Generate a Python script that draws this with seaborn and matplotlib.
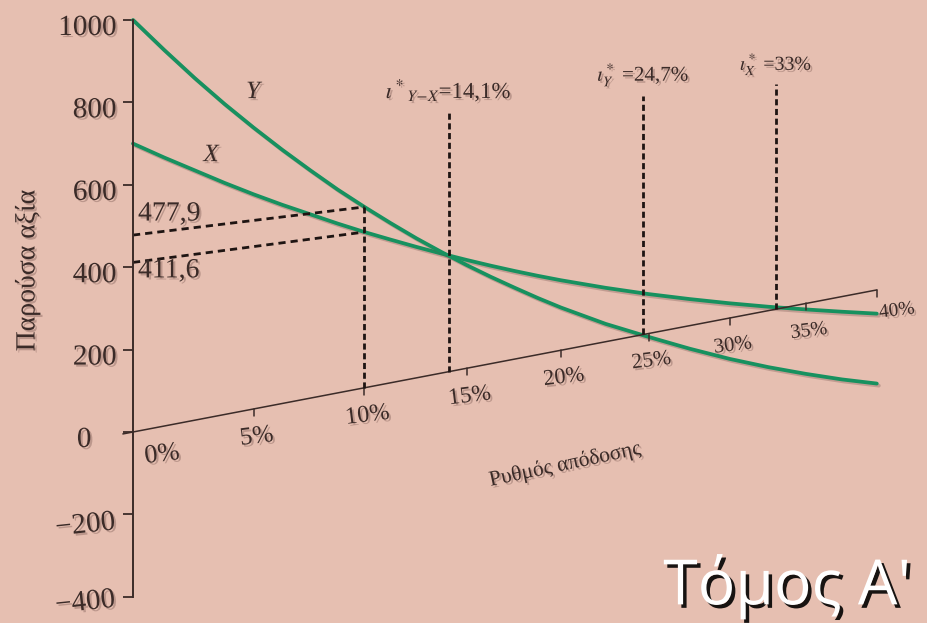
import numpy as np
import pandas as pd
import matplotlib
matplotlib.use('Agg')
import matplotlib.pyplot as plt
import matplotlib.patheffects as pe
from matplotlib import transforms
import seaborn as sns

# present value of the two projects against the rate of return
rates = [0, 1.25, 2.5, 3.75, 5, 6.25, 7.5, 8.75, 10, 11.25, 12.5, 13.75, 15, 16.25, 17.5, 18.75,
         20, 22.5, 25, 27.5, 30, 32.5, 35, 37.5, 40]
npv_x = [700, 659, 620, 581, 544, 509, 476, 443, 411.6, 382, 353, 325, 298, 272, 247, 223,
         200, 157, 117, 80, 45, 12, -19, -49, -78]
npv_y = [1000, 923, 849, 779, 713, 650, 590, 532, 477.9, 426, 376, 329, 284, 241, 200, 160,
         122, 52, -10, -70, -126, -177, -224, -268, -308]

rate_ticks = [0, 5, 10, 15, 20, 25, 30, 35, 40]
pv_ticks = [1000, 800, 600, 400, 200, 0, -200, -400]
pv_labels = ['1000', '800', '600', '400', '200', '0', '\u2212200', '\u2212400']

marked_rate = 10
marked_y = 477.9
marked_x = 411.6
irr_rates = [14.1, 24.7, 33]
irr_labels = [r'$\iota^*{}_{Y\!-\!X}$=14,1%', r'$\iota^*_Y$ =24,7%', r'$\iota^*_X$ =33%']

BG = '#e6bfb1'
GREEN = '#17915f'
INK = '#3b2b28'
DASH = '#1e1412'

# the rate axis is drawn in perspective, receding to the right
DEPTH = 0.00888
PX_PER_PCT = 25.2
RISE = 0.191 / 0.412


def project(r, v):
    r = np.asarray(r, dtype=float)
    v = np.asarray(v, dtype=float)
    s = 1.0 / (1.0 + DEPTH * r)
    u = PX_PER_PCT * r * s
    return u, RISE * u + v * s


def scale(r):
    return 1.0 / (1.0 + DEPTH * r)


sns.set_theme(style='white')
plt.rcParams['font.family'] = ['Liberation Serif', 'DejaVu Serif']
plt.rcParams['mathtext.fontset'] = 'stix'

shadow = [pe.withSimplePatchShadow(offset=(1.5, -1.5), shadow_rgbFace='#6e4d47', alpha=0.35)]

fig = plt.figure(figsize=(9.28, 6.23), dpi=100, facecolor=BG)
ax = fig.add_axes([0, 0, 1, 1], facecolor=BG)
ax.set_xlim(-133, 795)
ax.set_ylim(-463.6, 1048.5)

for side in ['top', 'right', 'bottom']:
    ax.spines[side].set_visible(False)
ax.spines['left'].set_position(('data', 0))
ax.spines['left'].set_bounds(-400, 1000)
ax.spines['left'].set_color(INK)
ax.spines['left'].set_linewidth(1.4)
ax.set_xticks([])
ax.set_yticks(pv_ticks)
ax.set_yticklabels(pv_labels)
ax.tick_params(axis='y', direction='out', length=7, width=1.3, color=INK,
               pad=5, labelsize=21, labelcolor=INK, left=True)
for lab, val in zip(ax.get_yticklabels(), pv_ticks):
    dx = -25 if val == 0 else 0
    dy = 0 if val == -400 else -5
    lab.set_transform(lab.get_transform() + transforms.ScaledTranslation(dx / 100, dy / 100, fig.dpi_scale_trans))
    lab.set_path_effects(shadow)
    if val < 0:
        lab.set_rotation(6)

# curves
frames = []
for name, vals in [('X', npv_x), ('Y', npv_y)]:
    u, h = project(rates, vals)
    frames.append(pd.DataFrame({'u': u, 'h': h, 'project': name}))
df = pd.concat(frames, ignore_index=True)
sns.lineplot(data=df, x='u', y='h', hue='project', palette={'X': GREEN, 'Y': GREEN},
             sort=False, estimator=None, legend=False, lw=2.7, ax=ax)
for ln in ax.lines:
    ln.set_path_effects([pe.SimpleLineShadow(offset=(1.5, -1.5), shadow_color='#6e4d47', alpha=0.3), pe.Normal()])
ax.set_xlabel('')
ax.set_ylabel('')

# rate axis
u0, h0 = project(-0.4, 0)
u1, h1 = project(rate_ticks[-1], 0)
ax.plot([u0, u1], [h0, h1], color=INK, lw=1.1)
for r in rate_ticks[1:]:
    u, h = project(r, 0)
    ax.plot([u, u], [h, h - 17], color=INK, lw=1.1)
for r in rate_ticks:
    u, h = project(r, 0)
    if r == 0:
        x, y = u + 29, h - 56
    elif r == rate_ticks[-1]:
        x, y = u + 20, h - 51
    else:
        x, y = u + 3, h - 68
    ax.text(x, y, f'{r}%', fontsize=19 * scale(r), color=INK, rotation=7,
            ha='center', va='center', path_effects=shadow)

ax.text(432, -80, 'Ρυθμός απόδοσης', fontsize=15.5, color=INK, rotation=12,
        ha='center', va='center', path_effects=shadow)

# dashed guides at 10%
um, hy = project(marked_rate, marked_y)
_, hb = project(marked_rate, 0)
ax.plot([um, um], [hb, hy], color=DASH, lw=2.0, ls=(0, (2.2, 1.3)))
for v in [marked_y, marked_x]:
    ua, ha = project(0, v)
    ub, hb2 = project(marked_rate, v)
    ax.plot([ua, ub], [ha, hb2], color=DASH, lw=2.0, ls=(0, (2.6, 1.8)))
ax.text(5, 529, '477,9', fontsize=20, color=INK, ha='left', va='center', path_effects=shadow)
ax.text(5, 391, '411,6', fontsize=20, color=INK, ha='left', va='center', path_effects=shadow)

# IRR and crossover lines
for r, lab in zip(irr_rates, irr_labels):
    ua, ha = project(r, 0)
    ub, hb2 = project(r, 707)
    ax.plot([ua, ub], [ha, hb2], color=DASH, lw=2.0, ls=(0, (2.2, 1.3)))
    ut, ht = project(r, 768)
    ax.text(ut, ht, lab, fontsize=18.5 * scale(r), color=INK, ha='center', va='center',
            path_effects=shadow)

ax.text(120, 825, 'Y', fontsize=18, fontstyle='italic', color=INK, ha='center', va='center',
        path_effects=shadow)
ax.text(78, 672, 'X', fontsize=18, fontstyle='italic', color=INK, ha='center', va='center',
        path_effects=shadow)

ax.text(-105, 391, 'Παρούσα αξία', fontsize=20, color=INK, rotation=90, ha='center',
        va='center', path_effects=shadow)

fig.text(0.982, 0.058, "Τόμος Α'", fontsize=45, color='white', ha='right', va='center',
         family=['Open Sans', 'DejaVu Sans'],
         path_effects=[pe.withSimplePatchShadow(offset=(2.5, -2.5), shadow_rgbFace='black', alpha=0.9)])

fig.savefig('out.png', dpi=100, facecolor=BG)
